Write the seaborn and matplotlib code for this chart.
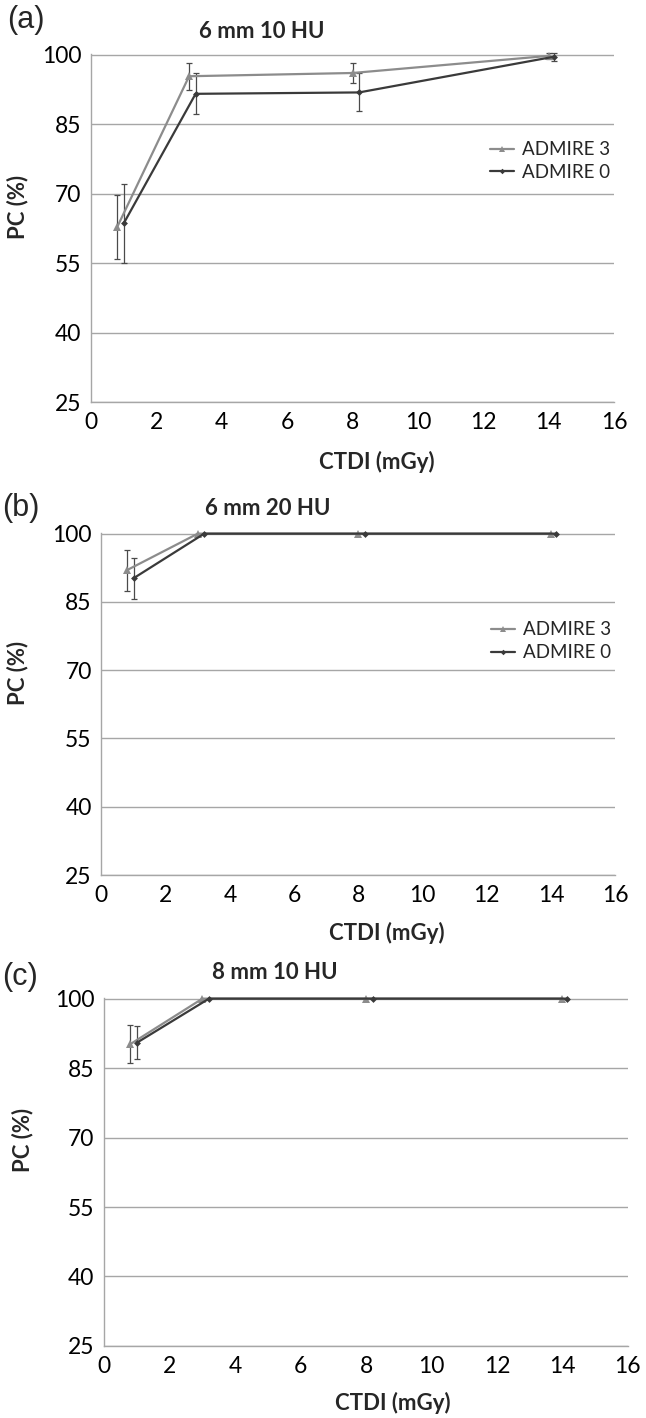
"""
PC vs CTDI for ADMIRE 3 / ADMIRE 0, three lesion settings
"""

import matplotlib
matplotlib.use("Agg")
import matplotlib.pyplot as plt
import pandas as pd
import seaborn as sns

sns.set_style("white")
plt.rcParams["font.family"] = ["Lato", "DejaVu Sans"]

series_names = ["ADMIRE 3", "ADMIRE 0"]
ctdi_admire3 = [0.8, 3.0, 8.0, 14.0]
ctdi_admire0 = [1.0, 3.2, 8.2, 14.15]

titles = ["6 mm 10 HU", "6 mm 20 HU", "8 mm 10 HU"]
panel_tags = ["(a)", "(b)", "(c)"]
y_ticks = [25, 40, 55, 70, 85, 100]
x_ticks = [0, 2, 4, 6, 8, 10, 12, 14, 16]

# (a) 6 mm 10 HU
pc_a_admire3 = [62.8, 95.4, 96.1, 99.8]
err_a_admire3 = [7.0, 2.9, 2.1, 0.6]
pc_a_admire0 = [63.6, 91.6, 91.9, 99.6]
err_a_admire0 = [8.6, 4.4, 4.1, 0.8]

# (b) 6 mm 20 HU
pc_b_admire3 = [92.0, 100, 100, 100]
err_b_admire3 = [4.5, 0, 0, 0]
pc_b_admire0 = [90.2, 100, 100, 100]
err_b_admire0 = [4.45, 0, 0, 0]

# (c) 8 mm 10 HU
pc_c_admire3 = [90.2, 100, 100, 100]
err_c_admire3 = [4.1, 0, 0, 0]
pc_c_admire0 = [90.5, 100, 100, 100]
err_c_admire0 = [3.55, 0, 0, 0]

colors = {"ADMIRE 3": "#8c8c8c", "ADMIRE 0": "#3a3a3a"}
markers = {"ADMIRE 3": "^", "ADMIRE 0": "D"}
marker_sizes = {"^": 5.5, "D": 3.5}
err_color = "#4a4a4a"
axis_gray = "#a6a6a6"


def make_frame(pc3, e3, pc0, e0):
    rows = []
    for x, y, e in zip(ctdi_admire3, pc3, e3):
        rows.append({"ctdi": x, "pc": y, "err": e, "series": "ADMIRE 3"})
    for x, y, e in zip(ctdi_admire0, pc0, e0):
        rows.append({"ctdi": x, "pc": y, "err": e, "series": "ADMIRE 0"})
    return pd.DataFrame(rows)


frames = [
    make_frame(pc_a_admire3, err_a_admire3, pc_a_admire0, err_a_admire0),
    make_frame(pc_b_admire3, err_b_admire3, pc_b_admire0, err_b_admire0),
    make_frame(pc_c_admire3, err_c_admire3, pc_c_admire0, err_c_admire0),
]

# axes boxes in figure fractions (left, bottom, width, height)
boxes = [
    (0.1409, 0.7165, 0.8096, 0.2454),
    (0.1570, 0.3829, 0.7955, 0.2414),
    (0.1615, 0.0508, 0.8102, 0.2456),
]
title_pos = [(0.327, 1.064), (0.324, 1.072), (0.326, 1.071)]
xlabel_pos = [(0.547, -0.172), (0.556, -0.169), (0.552, -0.164)]
ylabel_pos = [(-0.1415, 0.560), (-0.164, 0.590), (-0.157, 0.591)]
tag_pos = [(0.011, 0.9859), (0.003, 0.6417), (0.003, 0.311)]
legend_y = [0.692, 0.683, None]

fig = plt.figure(figsize=(6.46, 14.18), dpi=100)

for i, df in enumerate(frames):
    ax = fig.add_axes(boxes[i])

    for name in series_names:
        sub = df[(df["series"] == name) & (df["err"] > 0)]
        ax.errorbar(sub["ctdi"], sub["pc"], yerr=sub["err"], fmt="none",
                    ecolor=err_color, elinewidth=0.9, capsize=2.5,
                    capthick=0.9, zorder=2)

    sns.lineplot(data=df, x="ctdi", y="pc", hue="series", style="series",
                 hue_order=series_names, style_order=series_names,
                 palette=colors, markers=markers, dashes=False, sort=False,
                 errorbar=None, linewidth=1.6, markersize=5,
                 markeredgewidth=0, ax=ax, zorder=3)
    for line in ax.lines:
        line.set_clip_on(False)
        if line.get_marker() in marker_sizes:
            line.set_markersize(marker_sizes[line.get_marker()])

    ax.set_xlim(0, 16)
    ax.set_ylim(25, 100.2)
    ax.set_xticks(x_ticks)
    ax.set_yticks(y_ticks)
    ax.grid(axis="y", color=axis_gray, linewidth=1.0)
    ax.grid(axis="x", visible=False)
    sns.despine(ax=ax, top=True, right=True)
    for side in ["left", "bottom"]:
        ax.spines[side].set_color(axis_gray)
        ax.spines[side].set_linewidth(1.0)

    ax.tick_params(axis="x", direction="inout", length=5, width=0.8,
                   color=axis_gray, pad=5, labelsize=16.5, labelcolor="black")
    ax.tick_params(axis="y", length=0, pad=7, labelsize=16.5,
                   labelcolor="black")

    ax.set_title("")
    ax.text(title_pos[i][0], title_pos[i][1], titles[i],
            transform=ax.transAxes, ha="center", va="center",
            fontsize=16, fontweight="bold")

    ax.set_xlabel("CTDI (mGy)", fontsize=16, fontweight="bold")
    ax.xaxis.set_label_coords(*xlabel_pos[i])
    ax.xaxis.label.set_va("center")
    ax.set_ylabel("PC (%)", fontsize=16, fontweight="bold")
    ax.yaxis.set_label_coords(*ylabel_pos[i])
    ax.yaxis.label.set_va("center")

    if legend_y[i] is not None:
        leg = ax.legend(title=None, frameon=False, loc="center right",
                        bbox_to_anchor=(1.01, legend_y[i]), fontsize=13.5,
                        handlelength=1.3, handletextpad=0.4,
                        labelspacing=0.3, borderpad=0)
        for h in leg.legend_handles:
            if h.get_marker() in marker_sizes:
                h.set_markersize(marker_sizes[h.get_marker()] * 0.8)
    else:
        ax.get_legend().remove()

    fig.text(tag_pos[i][0], tag_pos[i][1], panel_tags[i], ha="left",
             va="center", fontsize=22, family="Liberation Sans")

fig.savefig("out.png", dpi=100)
